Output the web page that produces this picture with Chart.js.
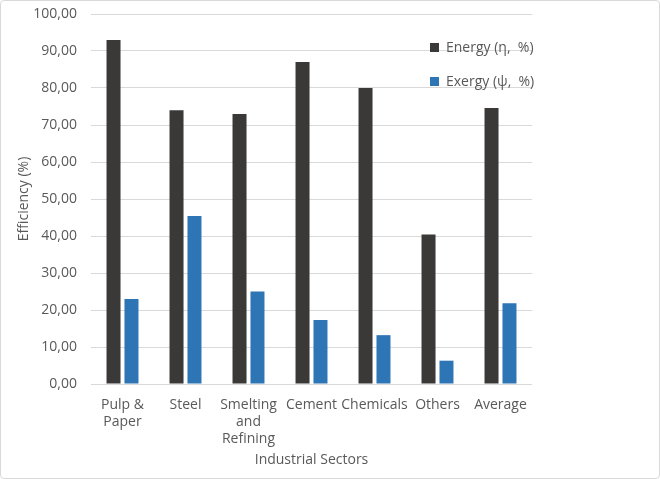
<!DOCTYPE html>
<html>
<head>
<meta charset="utf-8">
<script src="https://cdn.jsdelivr.net/npm/chart.js@4.4.1/dist/chart.umd.min.js"></script>
<style>
  html, body { margin: 0; padding: 0; background: #fff; }
  #wrap { position: relative; width: 658px; height: 477px; border: 1px solid #d9d9d9; border-radius: 4px; }
  #legend { position: absolute; left: 429px; top: 34px; font: 14px "Open Sans", sans-serif; color: #595959; }
  #legend div { height: 34px; line-height: 24px; white-space: pre; }
  #legend span.box { display: inline-block; width: 9px; height: 9px; margin-right: 7px; vertical-align: 0px; }
</style>
</head>
<body>
<div id="wrap">
  <canvas id="chart" width="658" height="477"></canvas>
  <div id="legend"></div>
</div>
<script>
var sectors = [["Pulp &", "Paper"], "Steel", ["Smelting", "and", "Refining"], "Cement", "Chemicals", "Others", "Average"];
var energy = [93.0, 74.0, 73.0, 87.0, 80.0, 40.4, 74.6];
var exergy = [23.0, 45.4, 25.0, 17.3, 13.2, 6.3, 21.8];
var seriesNames = ["Energy (\u03b7,  %)", "Exergy (\u03c8,  %)"];
var seriesColors = ["#3b3838", "#2e75b6"];

var font = { family: "'Open Sans', sans-serif", size: 14 };

var legendBox = document.getElementById("legend");
seriesNames.forEach(function (name, i) {
    var row = document.createElement("div");
    var box = document.createElement("span");
    box.className = "box";
    box.style.background = seriesColors[i];
    row.appendChild(box);
    row.appendChild(document.createTextNode(name));
    legendBox.appendChild(row);
});

const ctx = document.getElementById("chart");
new Chart(ctx, {
    type: 'bar',
    data: {
        labels: sectors,
        datasets: [
            { label: seriesNames[0], data: energy, backgroundColor: seriesColors[0], borderWidth: 0,
              categoryPercentage: 0.57, barPercentage: 0.78 },
            { label: seriesNames[1], data: exergy, backgroundColor: seriesColors[1], borderWidth: 0,
              categoryPercentage: 0.57, barPercentage: 0.78 }
        ]
    },
    options: {
        responsive: false,
        animation: false,
        layout: {
            padding: { top: 13, right: 127, bottom: 6, left: 0 }
        },
        plugins: {
            legend: { display: false },
            tooltip: { enabled: false }
        },
        scales: {
            x: {
                afterFit: function (scale) { scale.height = 88; },
                grid: { display: false, drawTicks: false },
                border: { display: false },
                ticks: { color: '#595959', font: font, maxRotation: 0, autoSkip: false, padding: 13 },
                title: { display: true, text: 'Industrial Sectors', color: '#595959', font: font, padding: { top: 0, bottom: 4 } }
            },
            y: {
                min: 0,
                max: 100,
                afterFit: function (scale) {
                    scale.width = 90;
                    scale.paddingTop = 0;
                    scale.paddingBottom = 0;
                },
                grid: { color: '#d9d9d9', drawTicks: false },
                border: { display: false },
                ticks: {
                    stepSize: 10,
                    color: '#595959',
                    font: font,
                    padding: 14,
                    callback: function (v) { return v.toFixed(2).replace('.', ','); }
                },
                title: { display: true, text: 'Efficiency (%)', color: '#595959', font: font, padding: { top: 15, bottom: 0 } }
            }
        }
    }
});
</script>
</body>
</html>
